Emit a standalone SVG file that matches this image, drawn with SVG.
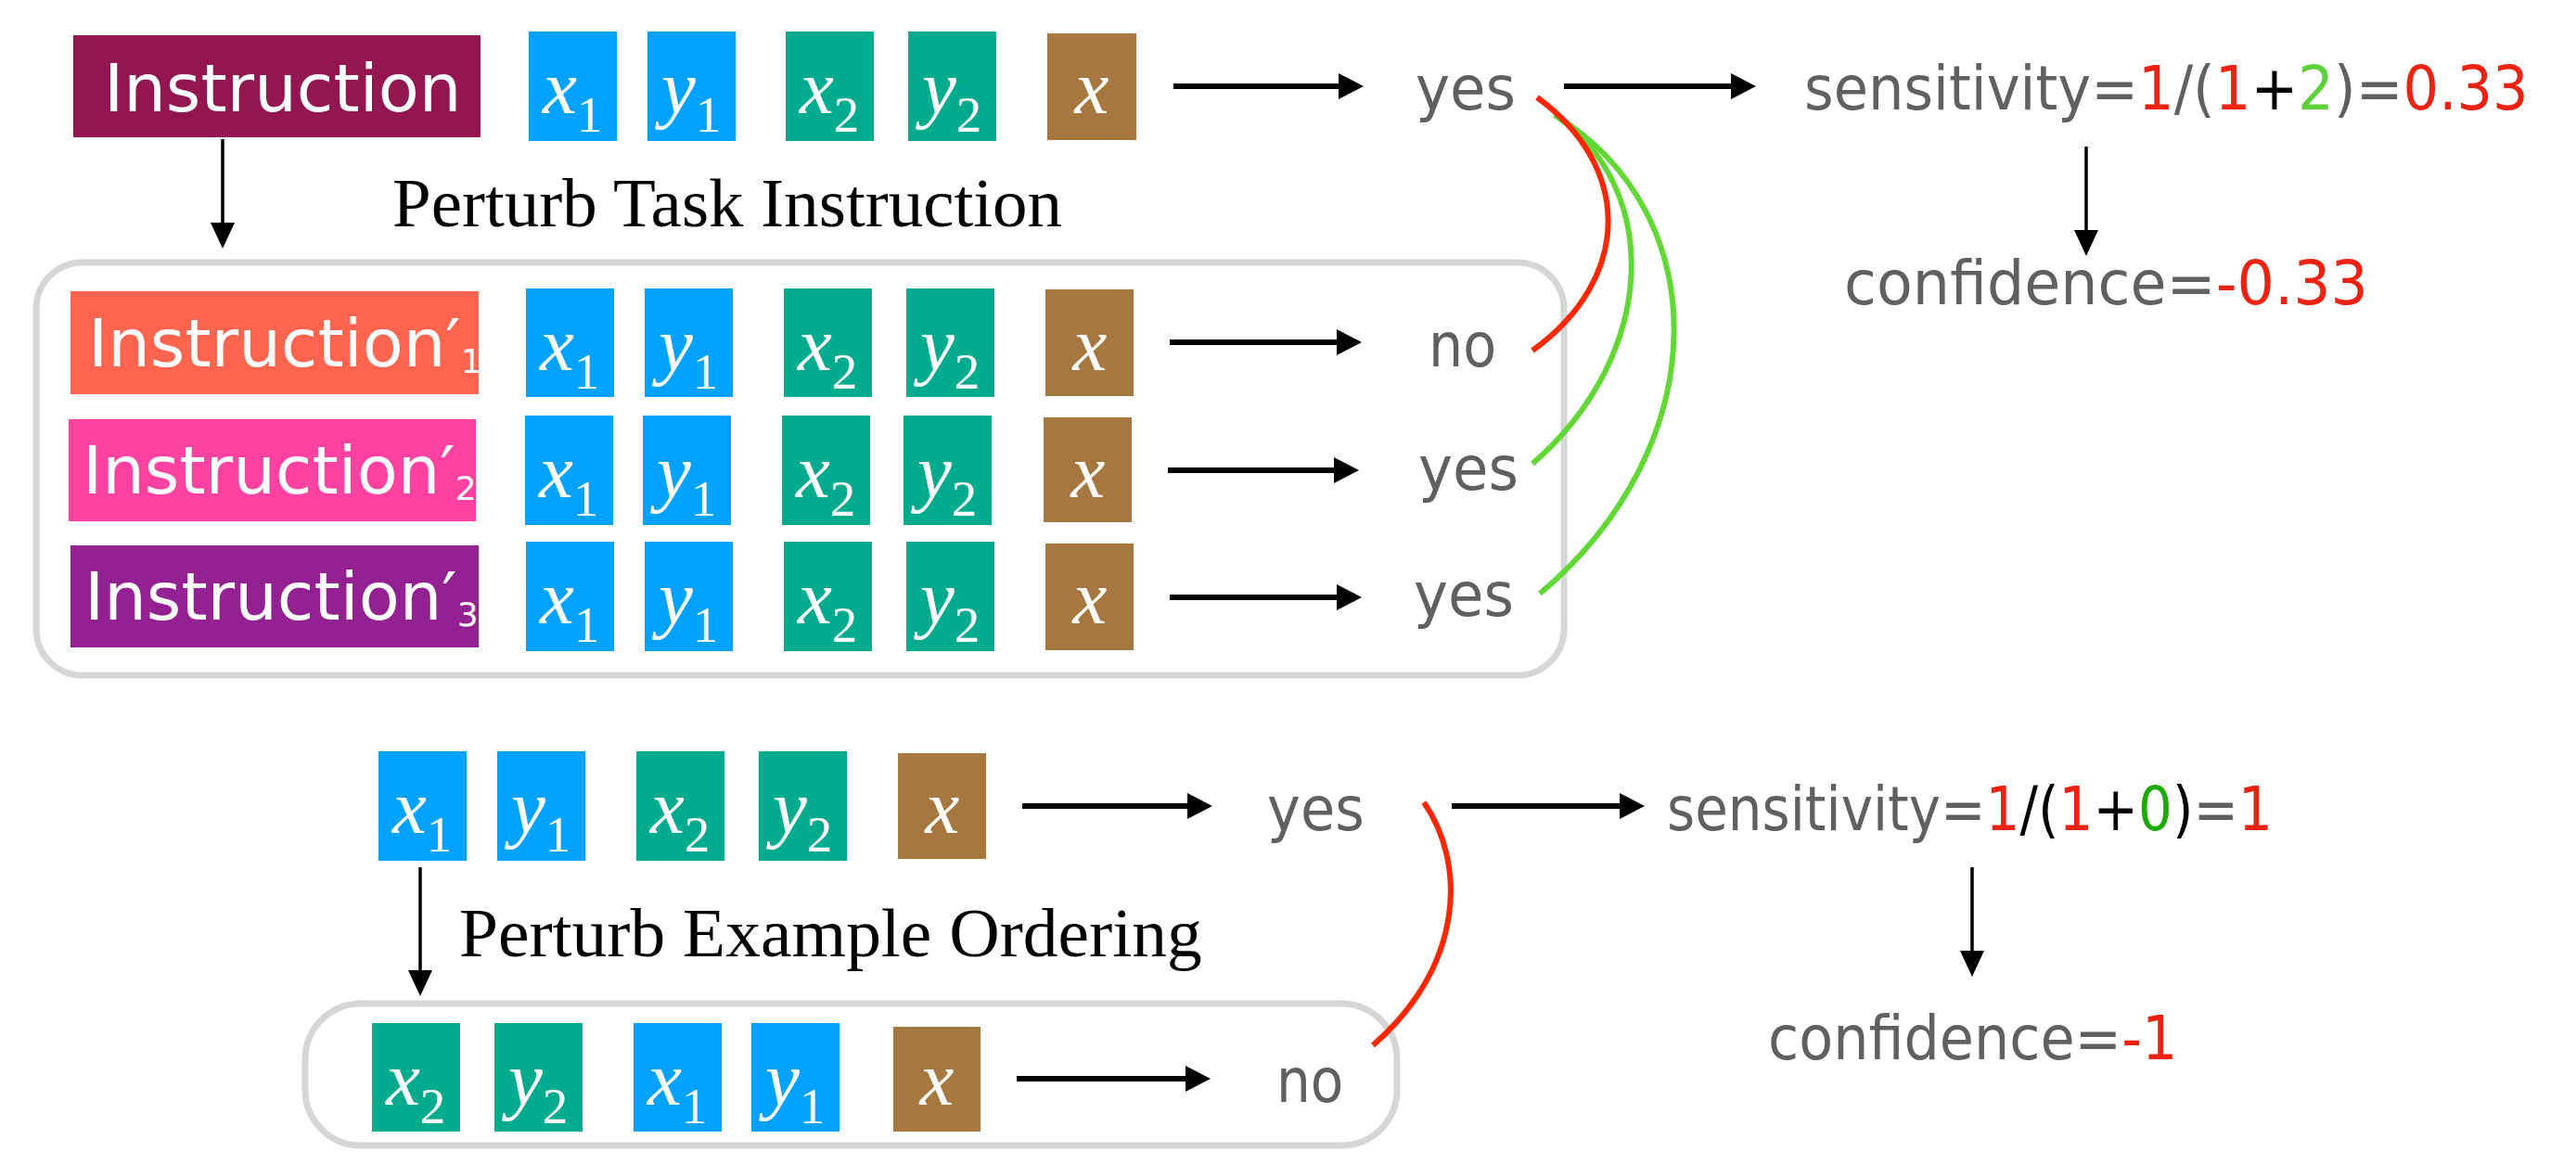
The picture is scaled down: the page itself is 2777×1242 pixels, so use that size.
<svg xmlns="http://www.w3.org/2000/svg" width="2777" height="1242" viewBox="0 0 2777 1242">
<defs>
<style>
.blue{fill:#00A2FF}.teal{fill:#00AB8E}.brown{fill:#A6783F}
.m{font-family:"Liberation Serif",serif;font-style:italic;font-size:83px;fill:#fff}
.s{font-style:normal;font-size:55px}
.lab{font-family:"DejaVu Sans",sans-serif;font-size:72px;fill:#fff}
.sub{font-size:36px}
.out{font-family:"DejaVu Sans",sans-serif;font-size:66px;fill:#606060}
.cap{font-family:"Liberation Serif",serif;font-size:73px;fill:#000}
.red{fill:#EE2211}.grn{fill:#5ED13A}.dg{fill:#1DAA00}.blk{fill:#000}
.box{fill:none;stroke:#D6D6D6;stroke-width:7}
.ha{stroke:#000;stroke-width:6;fill:none}
.va{stroke:#000;stroke-width:3.5;fill:none}
.cr{stroke:#FF2600;stroke-width:6;fill:none}
.cg{stroke:#61D836;stroke-width:6;fill:none}
</style>
<marker id="hh" markerUnits="userSpaceOnUse" markerWidth="27" markerHeight="28" refX="0" refY="14" orient="auto"><path d="M0,0 L27,14 L0,28 z" fill="#000"/></marker>
<marker id="vh" markerUnits="userSpaceOnUse" markerWidth="28" markerHeight="26" refX="0" refY="13" orient="auto"><path d="M0,0 L28,13 L0,26 z" fill="#000"/></marker>
</defs>
<rect width="2777" height="1242" fill="#fff"/>

<g id="groups">
<rect id="group-instr" class="box" x="39" y="283" width="1647" height="445" rx="50"/>
<rect id="group-order" class="box" x="329" y="1082" width="1177" height="153" rx="60"/>
</g>

<!-- top row -->
<g id="instruction"><rect x="79" y="38" width="439" height="110" fill="#941651"/><text class="lab" x="112" y="120">Instruction</text></g>
<g id="t-x1"><rect class="blue" x="570" y="34" width="95" height="118"/><text class="m" x="585" y="122">x<tspan class="s" dy="20">1</tspan></text></g>
<g id="t-y1"><rect class="blue" x="698" y="34" width="95" height="118"/><text class="m" x="713" y="122">y<tspan class="s" dy="20">1</tspan></text></g>
<g id="t-x2"><rect class="teal" x="847" y="34" width="95" height="118"/><text class="m" x="862" y="122">x<tspan class="s" dy="20">2</tspan></text></g>
<g id="t-y2"><rect class="teal" x="979" y="34" width="95" height="118"/><text class="m" x="994" y="122">y<tspan class="s" dy="20">2</tspan></text></g>
<g id="t-x"><rect class="brown" x="1129" y="36" width="96" height="115"/><text class="m" x="1177" y="122" text-anchor="middle">x</text></g>
<g id="t-out"><text class="out" transform="translate(1526,118) scale(0.947,1)">yes</text></g>
<g id="t-sens"><text class="out" transform="translate(1945,118) scale(0.92,1)">sensitivity=<tspan class="red">1</tspan>/(<tspan class="red">1</tspan><tspan class="blk">+</tspan><tspan class="grn">2</tspan>)=<tspan class="red">0.33</tspan></text></g>
<g id="t-conf"><text class="out" transform="translate(1988,328) scale(0.962,1)">confidence=<tspan class="red">-0.33</tspan></text></g>
<g id="cap-task"><text class="cap" transform="translate(423,244) scale(1.027,1)">Perturb Task Instruction</text></g>

<!-- row 1 -->
<g id="instruction1"><rect x="76" y="314" width="440" height="111" fill="#FF644E"/><text class="lab" x="95" y="395">Instruction′<tspan class="sub" dy="7">1</tspan></text></g>
<g id="r1-x1"><rect class="blue" x="567" y="311" width="95" height="117"/><text class="m" x="582" y="399">x<tspan class="s" dy="20">1</tspan></text></g>
<g id="r1-y1"><rect class="blue" x="695" y="311" width="95" height="117"/><text class="m" x="710" y="399">y<tspan class="s" dy="20">1</tspan></text></g>
<g id="r1-x2"><rect class="teal" x="845" y="311" width="95" height="117"/><text class="m" x="860" y="399">x<tspan class="s" dy="20">2</tspan></text></g>
<g id="r1-y2"><rect class="teal" x="977" y="311" width="95" height="117"/><text class="m" x="992" y="399">y<tspan class="s" dy="20">2</tspan></text></g>
<g id="r1-x"><rect class="brown" x="1127" y="312" width="95" height="115"/><text class="m" x="1175" y="399" text-anchor="middle">x</text></g>
<g id="r1-out"><text class="out" transform="translate(1540,395) scale(0.89,1)">no</text></g>

<!-- row 2 -->
<g id="instruction2"><rect x="74" y="452" width="439" height="110" fill="#FF42A1"/><text class="lab" x="89" y="532">Instruction′<tspan class="sub" dy="7">2</tspan></text></g>
<g id="r2-x1"><rect class="blue" x="566" y="448" width="95" height="118"/><text class="m" x="581" y="536">x<tspan class="s" dy="20">1</tspan></text></g>
<g id="r2-y1"><rect class="blue" x="693" y="448" width="95" height="118"/><text class="m" x="708" y="536">y<tspan class="s" dy="20">1</tspan></text></g>
<g id="r2-x2"><rect class="teal" x="843" y="448" width="95" height="118"/><text class="m" x="858" y="536">x<tspan class="s" dy="20">2</tspan></text></g>
<g id="r2-y2"><rect class="teal" x="974" y="448" width="95" height="118"/><text class="m" x="989" y="536">y<tspan class="s" dy="20">2</tspan></text></g>
<g id="r2-x"><rect class="brown" x="1125" y="450" width="95" height="113"/><text class="m" x="1173" y="536" text-anchor="middle">x</text></g>
<g id="r2-out"><text class="out" transform="translate(1529,528) scale(0.947,1)">yes</text></g>

<!-- row 3 -->
<g id="instruction3"><rect x="76" y="588" width="440" height="110" fill="#942192"/><text class="lab" x="91" y="668">Instruction′<tspan class="sub" dy="7">3</tspan></text></g>
<g id="r3-x1"><rect class="blue" x="567" y="584" width="95" height="118"/><text class="m" x="582" y="672">x<tspan class="s" dy="20">1</tspan></text></g>
<g id="r3-y1"><rect class="blue" x="695" y="584" width="95" height="118"/><text class="m" x="710" y="672">y<tspan class="s" dy="20">1</tspan></text></g>
<g id="r3-x2"><rect class="teal" x="845" y="584" width="95" height="118"/><text class="m" x="860" y="672">x<tspan class="s" dy="20">2</tspan></text></g>
<g id="r3-y2"><rect class="teal" x="977" y="584" width="95" height="118"/><text class="m" x="992" y="672">y<tspan class="s" dy="20">2</tspan></text></g>
<g id="r3-x"><rect class="brown" x="1127" y="586" width="95" height="115"/><text class="m" x="1175" y="672" text-anchor="middle">x</text></g>
<g id="r3-out"><text class="out" transform="translate(1524,664) scale(0.947,1)">yes</text></g>

<!-- bottom original -->
<g id="b-x1"><rect class="blue" x="408" y="810" width="95" height="118"/><text class="m" x="423" y="898">x<tspan class="s" dy="20">1</tspan></text></g>
<g id="b-y1"><rect class="blue" x="536" y="810" width="95" height="118"/><text class="m" x="551" y="898">y<tspan class="s" dy="20">1</tspan></text></g>
<g id="b-x2"><rect class="teal" x="686" y="810" width="95" height="118"/><text class="m" x="701" y="898">x<tspan class="s" dy="20">2</tspan></text></g>
<g id="b-y2"><rect class="teal" x="818" y="810" width="95" height="118"/><text class="m" x="833" y="898">y<tspan class="s" dy="20">2</tspan></text></g>
<g id="b-x"><rect class="brown" x="968" y="812" width="95" height="114"/><text class="m" x="1016" y="898" text-anchor="middle">x</text></g>
<g id="b-out"><text class="out" transform="translate(1366,895) scale(0.92,1)">yes</text></g>
<g id="b-sens"><text class="out" transform="translate(1797,895) scale(0.878,1)">sensitivity=<tspan class="red">1</tspan><tspan class="blk">/(</tspan><tspan class="red">1</tspan><tspan class="blk">+</tspan><tspan class="dg">0</tspan><tspan class="blk">)</tspan>=<tspan class="red">1</tspan></text></g>
<g id="b-conf"><text class="out" transform="translate(1906,1142) scale(0.915,1)">confidence=<tspan class="red">-1</tspan></text></g>
<g id="cap-order"><text class="cap" transform="translate(495,1031) scale(1.034,1)">Perturb Example Ordering</text></g>

<!-- bottom perturbed -->
<g id="p-x2"><rect class="teal" x="401" y="1103" width="95" height="117"/><text class="m" x="416" y="1191">x<tspan class="s" dy="20">2</tspan></text></g>
<g id="p-y2"><rect class="teal" x="533" y="1103" width="95" height="117"/><text class="m" x="548" y="1191">y<tspan class="s" dy="20">2</tspan></text></g>
<g id="p-x1"><rect class="blue" x="683" y="1103" width="95" height="117"/><text class="m" x="698" y="1191">x<tspan class="s" dy="20">1</tspan></text></g>
<g id="p-y1"><rect class="blue" x="810" y="1103" width="95" height="117"/><text class="m" x="825" y="1191">y<tspan class="s" dy="20">1</tspan></text></g>
<g id="p-x"><rect class="brown" x="963" y="1107" width="94" height="113"/><text class="m" x="1010" y="1191" text-anchor="middle">x</text></g>
<g id="p-out"><text class="out" transform="translate(1376,1188) scale(0.88,1)">no</text></g>

<g id="connectors">
<path class="ha" marker-end="url(#hh)" d="M1265,93 H1443"/>
<path class="ha" marker-end="url(#hh)" d="M1686,93 H1866"/>
<path class="ha" marker-end="url(#hh)" d="M1261,369 H1441"/>
<path class="ha" marker-end="url(#hh)" d="M1259,507 H1438"/>
<path class="ha" marker-end="url(#hh)" d="M1261,644 H1441"/>
<path class="ha" marker-end="url(#hh)" d="M1102,869 H1280"/>
<path class="ha" marker-end="url(#hh)" d="M1096,1163 H1278"/>
<path class="ha" marker-end="url(#hh)" d="M1565,869 H1746"/>
<path class="va" marker-end="url(#vh)" d="M240,150 V240"/>
<path class="va" marker-end="url(#vh)" d="M2249,158 V248"/>
<path class="va" marker-end="url(#vh)" d="M453,935 V1046"/>
<path class="va" marker-end="url(#vh)" d="M2126,935 V1025"/>
<path class="cg" d="M1676,124 C1850,230 1850,480 1660,640"/>
<path class="cg" d="M1676,124 C1790,200 1790,380 1652,500"/>
<path class="cr" d="M1657,105 C1760,180 1760,300 1652,378"/>
<path class="cr" d="M1535,865 C1580,930 1580,1040 1480,1127"/>
</g>
</svg>
